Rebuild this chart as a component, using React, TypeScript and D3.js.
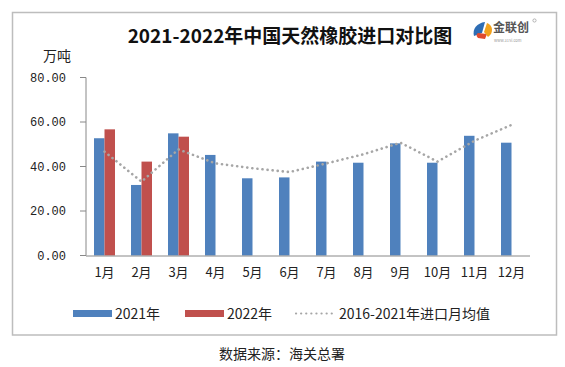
import React from "react";
import * as d3 from "d3";

const months = ["1月", "2月", "3月", "4月", "5月", "6月", "7月", "8月", "9月", "10月", "11月", "12月"];
const values2021 = [52.7, 31.7, 54.9, 45.2, 34.7, 35.1, 42.2, 41.7, 50.4, 41.7, 53.8, 50.7];
const values2022 = [56.7, 42.2, 53.4];
const avg1621 = [46.7, 33.2, 47.7, 41.4, 39.2, 37.5, 41.4, 45.5, 50.7, 42.2, 51.6, 58.7];
const yTicks = [0, 20, 40, 60, 80];
const seriesNames = ["2021年", "2022年", "2016-2021年进口月均值"];

const W = 565;
const H = 367;
const CJK = "'Noto Sans CJK SC', sans-serif";
const MONO = "'Liberation Mono', 'DejaVu Sans Mono', monospace";

export default function App() {
  const x = d3.scaleBand<string>().domain(months).range([86, 530]).paddingInner(0).paddingOuter(0);
  const y = d3.scaleLinear().domain([0, 80]).range([255.5, 77.5]);
  const bw = x.bandwidth();
  const barW = 10.5;
  const line = d3
    .line<number>()
    .x((_, i) => (x(months[i]) as number) + bw / 2)
    .y((d) => y(d));

  return (
    <div style={{ position: "absolute", left: 0, top: 0 }}>
      <svg width={W} height={H} style={{ display: "block", background: "#fff" }}>
        <rect x={12.5} y={12.5} width={544} height={322.5} fill="#fff" stroke="#BDBDBD" strokeWidth={1.5} />
        <text x={290} y={43} textAnchor="middle" fontFamily={CJK} fontWeight="bold" fontSize={19} fill="#111">
          2021-2022年中国天然橡胶进口对比图
        </text>
        {/* logo */}
        <g>
          <path d="M474,36 C472,29 477,23 485,22 L482,33 Z" fill="#2E6DB4" />
          <path d="M478,38 C476,36 476,34 478,33 L487,34 L485,39 Z" fill="#E04A2E" />
          <path d="M484,32 L487,23 C493,25 494,33 488,37 Z" fill="#F2A21C" />
          <text x={493} y={31.5} fontFamily={CJK} fontWeight="bold" fontSize={12} fill="#555">金联创</text>
          <text x={494} y={41.5} fontFamily={CJK} fontSize={4} fill="#999">www.315i.com</text>
          <circle cx={534.5} cy={20.5} r={1.6} fill="none" stroke="#888" strokeWidth={0.6} />
        </g>
        <text x={43} y={61} fontFamily={CJK} fontSize={14} fill="#222">万吨</text>
        {/* y axis */}
        <line x1={86} x2={86} y1={y(80)} y2={y(0)} stroke="#888" strokeWidth={1} />
        {yTicks.map((t) => (
          <g key={t}>
            <line x1={80} x2={86} y1={y(t)} y2={y(t)} stroke="#888" />
            <text x={66} y={y(t) + 4} textAnchor="end" fontFamily={MONO} fontSize={12} fill="#222">
              {t.toFixed(2)}
            </text>
          </g>
        ))}
        {/* bars */}
        {values2021.map((v, i) => {
          const cx = (x(months[i]) as number) + bw / 2;
          return <rect key={"a" + i} x={cx - barW} y={y(v)} width={barW} height={y(0) - y(v)} fill="#4F81BD" />;
        })}
        {values2022.map((v, i) => {
          const cx = (x(months[i]) as number) + bw / 2;
          return <rect key={"b" + i} x={cx} y={y(v)} width={barW} height={y(0) - y(v)} fill="#C0504D" />;
        })}
        <path
          d={line(avg1621) || ""}
          fill="none"
          stroke="#A6A6A6"
          strokeWidth={2.6}
          strokeLinecap="round"
          strokeDasharray="0.1 5"
        />
        {/* x axis */}
        <line x1={86} x2={530} y1={y(0) + 0.5} y2={y(0) + 0.5} stroke="#888" />
        {months.map((m) => (
          <text key={m} x={(x(m) as number) + bw / 2} y={277} textAnchor="middle" fontFamily={CJK} fontSize={13} fill="#222">
            {m}
          </text>
        ))}
        {/* legend */}
        <rect x={73} y={310} width={39} height={7} fill="#4F81BD" />
        <text x={115} y={319} fontFamily={CJK} fontSize={14} fill="#222">{seriesNames[0]}</text>
        <rect x={185} y={310} width={39} height={7} fill="#C0504D" />
        <text x={227} y={319} fontFamily={CJK} fontSize={14} fill="#222">{seriesNames[1]}</text>
        <line x1={296} x2={332} y1={313.5} y2={313.5} stroke="#A6A6A6" strokeWidth={2.2} strokeLinecap="round" strokeDasharray="0.1 5" />
        <text x={339} y={319} fontFamily={CJK} fontSize={14} fill="#222">{seriesNames[2]}</text>
        <text x={282} y={359} textAnchor="middle" fontFamily={CJK} fontSize={14} fill="#222">
          数据来源：海关总署
        </text>
      </svg>
    </div>
  );
}
